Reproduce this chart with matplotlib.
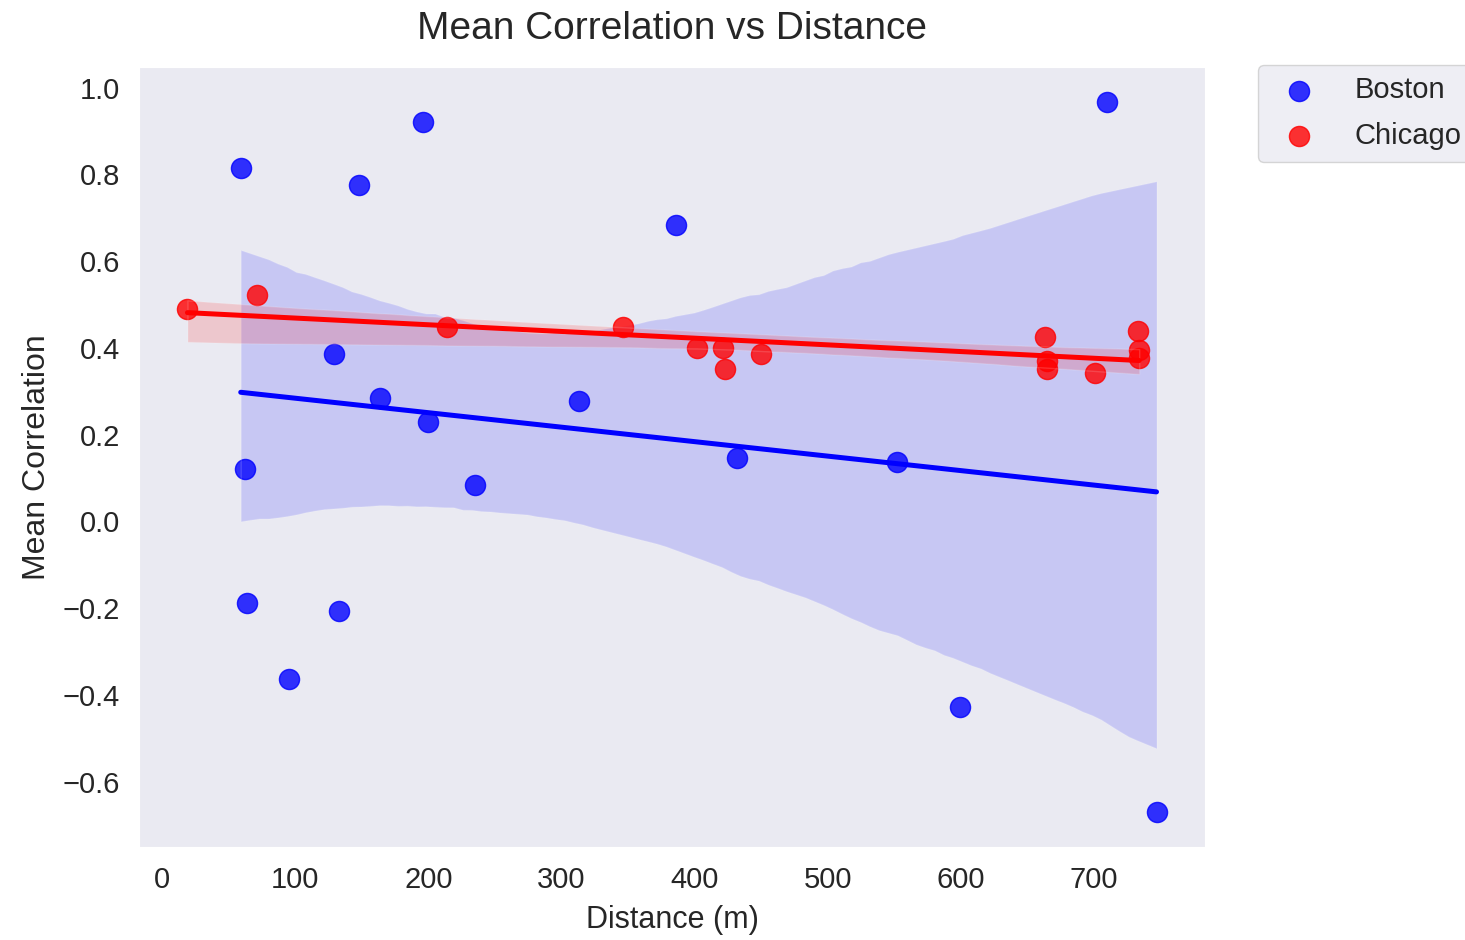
import matplotlib
matplotlib.use("Agg")
import matplotlib.pyplot as plt
import numpy as np
import seaborn as sns

# Boston sensors: distance (m) and mean correlation
boston_dist = [59, 62, 64, 95, 129, 133, 148, 164, 196, 200, 235, 313, 386, 432, 552, 599, 710, 747]
boston_corr = [0.814, 0.122, -0.189, -0.363, 0.386, -0.207, 0.775, 0.285, 0.920, 0.230,
               0.083, 0.278, 0.683, 0.147, 0.138, -0.428, 0.966, -0.669]

# Chicago sensors
chicago_dist = [19, 71, 214, 346, 402, 421, 423, 450, 663, 665, 665, 701, 733, 734, 734]
chicago_corr = [0.490, 0.522, 0.448, 0.448, 0.400, 0.400, 0.352, 0.386, 0.425, 0.370,
                0.352, 0.343, 0.439, 0.395, 0.377]

sns.set_style("dark")
plt.rcParams['font.family'] = ['Liberation Sans', 'DejaVu Sans']

fig = plt.figure(figsize=(14.65, 9.4), dpi=100)
ax = fig.add_axes([0.0949, 0.0989, 0.7276, 0.8298])

sns.regplot(x=np.array(boston_dist), y=np.array(boston_corr), ax=ax, color='blue',
            label='Boston', seed=7, scatter_kws={'s': 210}, line_kws={'lw': 3.6})
sns.regplot(x=np.array(chicago_dist), y=np.array(chicago_corr), ax=ax, color='red',
            label='Chicago', seed=7, scatter_kws={'s': 210}, line_kws={'lw': 3.6})

ax.set_title('Mean Correlation vs Distance', fontsize=28, pad=20)
ax.set_xlabel('Distance (m)', fontsize=22, labelpad=8)
ax.set_ylabel('Mean Correlation', fontsize=23, labelpad=8)
ax.tick_params(labelsize=21, pad=10)
ax.set_xticks([0, 100, 200, 300, 400, 500, 600, 700])
ax.set_yticks([-0.6, -0.4, -0.2, 0.0, 0.2, 0.4, 0.6, 0.8, 1.0])

ax.legend(bbox_to_anchor=(1.05, 1.003), loc=2, borderaxespad=0, fontsize=21,
          markerscale=1.0, handletextpad=0.9, labelspacing=0.6, frameon=True)

fig.savefig('out.png', dpi=100)
